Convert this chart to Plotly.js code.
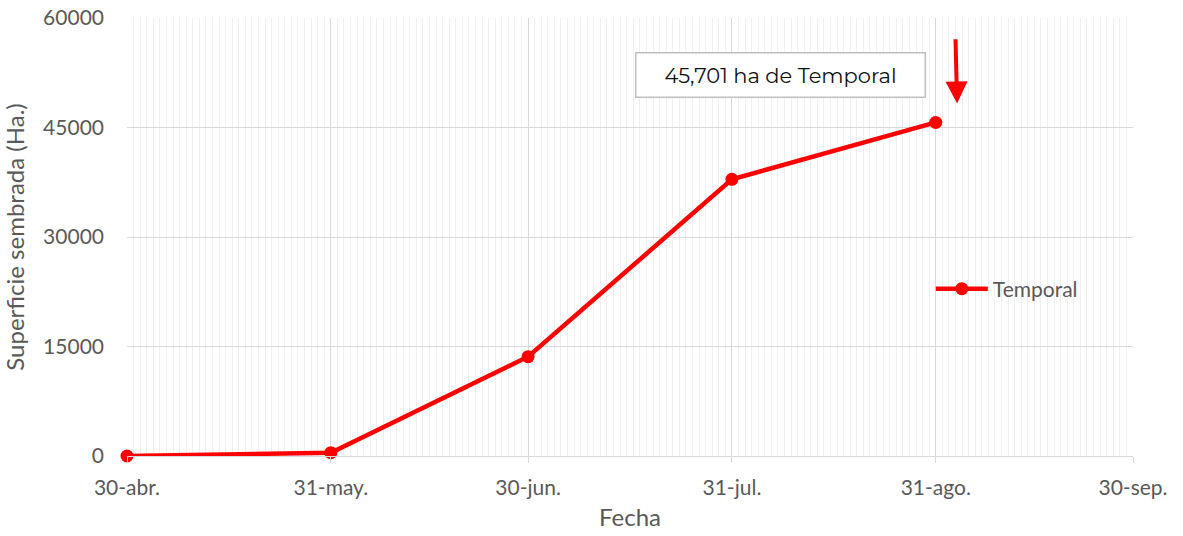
<!DOCTYPE html>
<html>
<head>
<meta charset="utf-8">
<script src="https://cdn.plot.ly/plotly-3.0.1.min.js"></script>
<style>html,body{margin:0;padding:0;background:#fff;}#chart{width:1183px;height:536px;}</style>
</head>
<body>
<div id="chart"></div>
<script>
const fechas = ['2021-04-30', '2021-05-31', '2021-06-30', '2021-07-31', '2021-08-31'];
const superficie = [0, 450, 13600, 37900, 45701];
const tickFechas = ['2021-04-30', '2021-05-31', '2021-06-30', '2021-07-31', '2021-08-31', '2021-09-30'];
const tickTextos = ['30-abr.', '31-may.', '30-jun.', '31-jul.', '31-ago.', '30-sep.'];
const yTicks = [0, 15000, 30000, 45000, 60000];
const yTextos = ['0', '15000', '30000', '45000', '60000'];
const serieNombre = 'Temporal';
const notaTexto = '45,701 ha de Temporal';

const gris = '#595959';
const fuente = 'Lato, "Open Sans", sans-serif';

const trace = {
  x: fechas, y: superficie, type: 'scatter', mode: 'lines+markers', name: serieNombre,
  line: {color: '#ff0000', width: 4.5},
  marker: {color: '#ff0000', size: 13},
  cliponaxis: false
};

const layout = {
  width: 1183, height: 536,
  margin: {l: 127, r: 50, t: 18, b: 80},
  paper_bgcolor: '#fff', plot_bgcolor: '#fff',
  font: {family: fuente, color: gris, size: 21},
  showlegend: true,
  legend: {x: 0.799, y: (456 - 289) / 438, xanchor: 'left', yanchor: 'middle', font: {size: 21, color: gris}, bgcolor: 'rgba(0,0,0,0)', itemwidth: 52},
  xaxis: {
    type: 'date',
    range: ['2021-04-30', '2021-09-30'],
    tickmode: 'array', tickvals: tickFechas, ticktext: tickTextos,
    showgrid: true, gridcolor: '#d9d9d9', gridwidth: 1,
    ticks: 'outside', ticklen: 6, tickcolor: '#d9d9d9',
    showline: true, linecolor: '#d9d9d9', linewidth: 1,
    ticklabelstandoff: 7,
    zeroline: false,
    tickfont: {size: 21, color: gris},
    minor: {tickmode: 'linear', tick0: '2021-04-30', dtick: 86400000, showgrid: true, gridcolor: '#f0f0f0', gridwidth: 1, ticks: ''},
    title: {text: 'Fecha', font: {size: 24, color: gris}, standoff: 10}
  },
  yaxis: {
    range: [0, 60000],
    tickmode: 'array', tickvals: yTicks, ticktext: yTextos,
    showgrid: true, gridcolor: '#d9d9d9', gridwidth: 1,
    zeroline: false, showline: false,
    ticks: '', ticklabelstandoff: 22,
    tickfont: {size: 21, color: gris},
    title: {text: 'Superficie sembrada (Ha.)', font: {size: 24, color: gris}, standoff: 16}
  },
  annotations: [
    {
      xref: 'paper', yref: 'paper', x: (780 - 127) / 1006, y: (456 - 75) / 438,
      xanchor: 'center', yanchor: 'middle',
      text: notaTexto, showarrow: false,
      font: {family: 'Montserrat, "Open Sans", sans-serif', size: 21, color: '#111111'},
      bgcolor: '#ffffff', bordercolor: '#bfbfbf', borderwidth: 1.5,
      width: 288, height: 43, borderpad: 0
    },
    {
      xref: 'x', yref: 'y', x: '2021-09-03 06:00', y: 48300,
      axref: 'x', ayref: 'y', ax: '2021-09-03 00:00', ay: 57300,
      showarrow: true, arrowhead: 2, arrowsize: 1.1, arrowwidth: 4, arrowcolor: '#ff0000', text: ''
    }
  ]
};

Plotly.newPlot('chart', [trace], layout, {displayModeBar: false, staticPlot: true});
</script>
</body>
</html>
